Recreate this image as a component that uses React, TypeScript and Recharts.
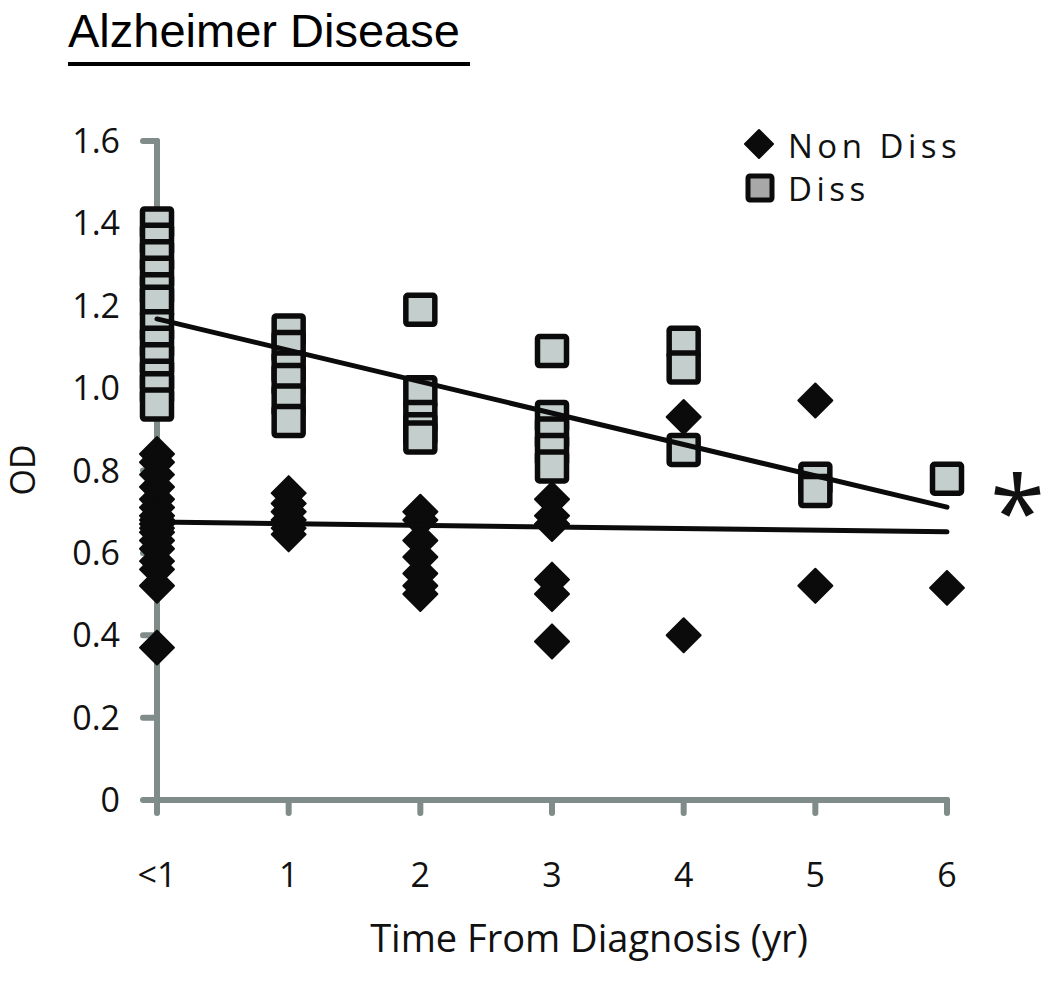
import React from "react";
import {
  ComposedChart,
  Scatter,
  XAxis,
  YAxis,
  Legend,
  Label,
} from "recharts";

// category positions: 0 = "<1", then 1..6 years
const categories = ["<1", "1", "2", "3", "4", "5", "6"];
const yTicks = [0, 0.2, 0.4, 0.6, 0.8, 1.0, 1.2, 1.4, 1.6];

// OD values per category
const nonDissValues = [
  [0.84, 0.82, 0.79, 0.76, 0.73, 0.71, 0.69, 0.68, 0.67, 0.66, 0.65, 0.63, 0.61, 0.58, 0.56, 0.52, 0.37],
  [0.745, 0.72, 0.7, 0.68, 0.66, 0.645],
  [0.7, 0.68, 0.63, 0.59, 0.55, 0.52, 0.5],
  [0.73, 0.69, 0.67, 0.535, 0.5, 0.385],
  [0.93, 0.4],
  [0.97, 0.52],
  [0.515],
];
const dissValues = [
  [1.4, 1.36, 1.32, 1.28, 1.24, 1.21, 1.15, 1.11, 1.07, 1.03, 1.0, 0.96],
  [1.14, 1.1, 1.05, 1.02, 0.97, 0.92],
  [1.19, 0.99, 0.93, 0.9, 0.88],
  [1.09, 0.93, 0.89, 0.85, 0.81],
  [1.11, 1.05, 0.85],
  [0.78, 0.75],
  [0.78],
];

// linear fit endpoints at "<1" and "6"
const trendX = [0, 6];
const dissTrend = [1.168, 0.711];
const nonDissTrend = [0.675, 0.651];

const toPoints = (groups: number[][]) =>
  groups.flatMap((vals, i) => vals.map((y) => ({ x: i, y })));
const nonDissData = toPoints(nonDissValues);
const dissData = toPoints(dissValues);
const dissTrendData = trendX.map((x, i) => ({ x, y: dissTrend[i] }));
const nonDissTrendData = trendX.map((x, i) => ({ x, y: nonDissTrend[i] }));

const AXIS = "#7f8c8a";
const FONT = "'Open Sans', sans-serif";

const Diamond = (props: any) => {
  const { cx, cy } = props;
  const r = 17;
  return (
    <path
      d={`M${cx},${cy - r}L${cx + r},${cy}L${cx},${cy + r}L${cx - r},${cy}Z`}
      fill="#0b0b0b"
      stroke="#0b0b0b"
      strokeWidth={2}
      strokeLinejoin="round"
    />
  );
};

const Square = (props: any) => {
  const { cx, cy } = props;
  const s = 29;
  return (
    <rect
      x={cx - s / 2}
      y={cy - s / 2}
      width={s}
      height={s}
      rx={2}
      fill="#c4cecd"
      stroke="#0b0b0b"
      strokeWidth={5.5}
      strokeLinejoin="round"
    />
  );
};

const NoDot = () => <g />;

const LegendBox = () => (
  <div style={{ fontFamily: FONT, fontSize: 33, color: "#111", lineHeight: "43px" }}>
    <div style={{ display: "flex", alignItems: "center" }}>
      <svg width={40} height={43}>
        <path d="M17,6L31,20L17,34L3,20Z" fill="#0b0b0b" stroke="#0b0b0b" strokeWidth={2} strokeLinejoin="round" />
      </svg>
      <span style={{ marginLeft: 6, letterSpacing: 4.5 }}>Non Diss</span>
    </div>
    <div style={{ display: "flex", alignItems: "center" }}>
      <svg width={40} height={43}>
        <rect x={6} y={9} width={24} height={24} rx={2} fill="#a8a8a8" stroke="#0b0b0b" strokeWidth={5} />
      </svg>
      <span style={{ marginLeft: 6, letterSpacing: 4.5 }}>Diss</span>
    </div>
  </div>
);

export default function App() {
  return (
    <div style={{ position: "absolute", left: 0, top: 0, width: 1050, height: 989, background: "#fff" }}>
      <div
        style={{
          position: "absolute",
          left: 68,
          top: 4,
          width: 402,
          fontFamily: "'Liberation Sans', Arial, sans-serif",
          fontSize: 47,
          lineHeight: "54px",
          color: "#000",
          borderBottom: "4px solid #000",
          paddingBottom: 4,
        }}
      >
        Alzheimer Disease
      </div>
      <div
        style={{
          position: "absolute",
          left: 990,
          top: 460,
          fontFamily: FONT,
          fontSize: 100,
          lineHeight: "100px",
          color: "#111",
        }}
      >
        *
      </div>
      <ComposedChart
        width={1050}
        height={989}
        margin={{ top: 141, right: 103, bottom: 0, left: 0 }}
      >
        <XAxis
          type="number"
          dataKey="x"
          domain={[0, 6]}
          ticks={[0, 1, 2, 3, 4, 5, 6]}
          tickFormatter={(v: number) => categories[v]}
          height={189}
          axisLine={{ stroke: AXIS, strokeWidth: 6, strokeLinecap: "round" }}
          tickLine={{ stroke: AXIS, strokeWidth: 6, strokeLinecap: "round" }}
          tickSize={13}
          tickMargin={50}
          tick={{ fill: "#111", fontSize: 34, fontFamily: FONT }}
        >
          <Label
            content={() => (
              <text x={589} y={952} textAnchor="middle" fill="#111" fontSize={38} fontFamily={FONT}>
                Time From Diagnosis (yr)
              </text>
            )}
          />
        </XAxis>
        <YAxis
          type="number"
          dataKey="y"
          domain={[0, 1.6]}
          ticks={yTicks}
          tickFormatter={(v: number) => (v === 0 ? "0" : v.toFixed(1))}
          width={157}
          axisLine={{ stroke: AXIS, strokeWidth: 6, strokeLinecap: "round" }}
          tickLine={{ stroke: AXIS, strokeWidth: 6, strokeLinecap: "round" }}
          tickSize={14}
          tickMargin={23}
          tick={{ fill: "#111", fontSize: 34, fontFamily: FONT }}
        >
          <Label
            content={() => (
              <text
                x={22}
                y={470}
                textAnchor="middle"
                dominantBaseline="central"
                transform="rotate(-90 22 470)"
                fill="#111"
                fontSize={34}
                fontFamily={FONT}
              >
                OD
              </text>
            )}
          />
        </YAxis>
        <Legend
          layout="horizontal"
          verticalAlign="middle"
          align="center"
          content={() => <LegendBox />}
          wrapperStyle={{ position: "absolute", left: 742, top: 124, width: 280 }}
        />
        <Scatter name="Non Diss" data={nonDissData} shape={Diamond} isAnimationActive={false} />
        <Scatter name="Diss" data={dissData} shape={Square} isAnimationActive={false} />
        <Scatter
          name="Diss fit"
          data={dissTrendData}
          shape={NoDot}
          line={{ stroke: "#0b0b0b", strokeWidth: 5, strokeLinecap: "round" }}
          lineType="joint"
          legendType="none"
          isAnimationActive={false}
        />
        <Scatter
          name="Non Diss fit"
          data={nonDissTrendData}
          shape={NoDot}
          line={{ stroke: "#0b0b0b", strokeWidth: 5, strokeLinecap: "round" }}
          lineType="joint"
          legendType="none"
          isAnimationActive={false}
        />
      </ComposedChart>
    </div>
  );
}
